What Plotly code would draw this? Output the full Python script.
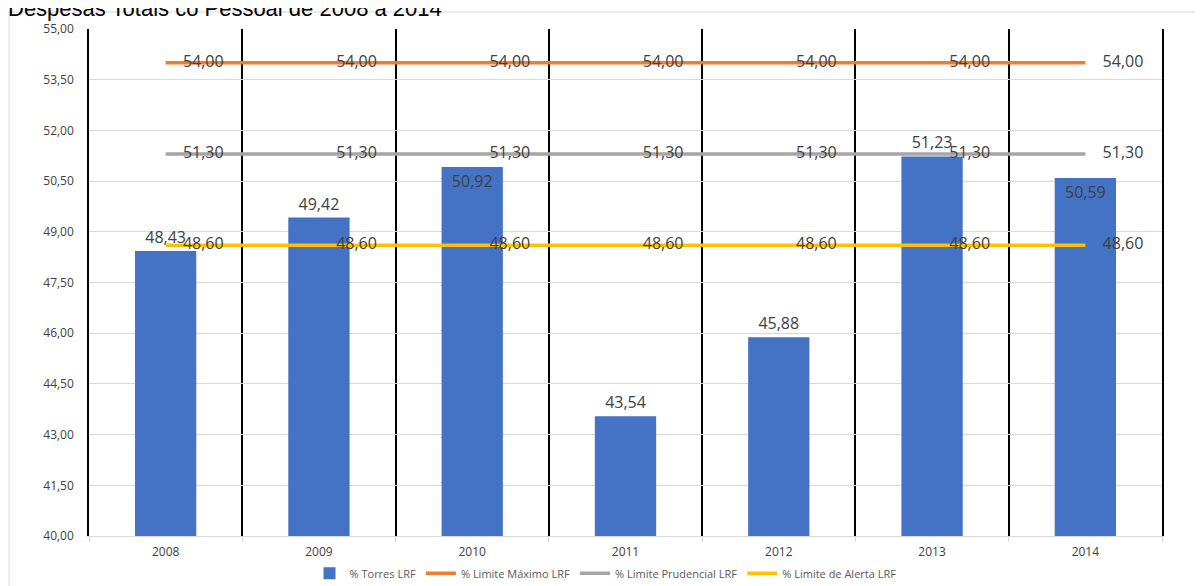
import plotly.graph_objects as go

years = ['2008', '2009', '2010', '2011', '2012', '2013', '2014']
torres = [48.43, 49.42, 50.92, 43.54, 45.88, 51.23, 50.59]
limite_maximo = [54.00] * 7
limite_prudencial = [51.30] * 7
limite_alerta = [48.60] * 7
bar_label_pos = ['outside', 'outside', 'inside', 'outside', 'outside', 'outside', 'inside']
y_ticks = [40.0, 41.5, 43.0, 44.5, 46.0, 47.5, 49.0, 50.5, 52.0, 53.5, 55.0]

label_color = '#404040'
label_font = dict(family='Open Sans', size=16, color=label_color)


def br(v):
    return f'{v:.2f}'.replace('.', ',')


fig = go.Figure()
fig.add_trace(go.Bar(
    x=years, y=torres, name='% Torres LRF',
    marker=dict(color='#4472C4', line=dict(width=0)),
    text=[br(v) for v in torres], textposition=bar_label_pos,
    insidetextanchor='end', textfont=label_font,
    insidetextfont=label_font, outsidetextfont=label_font,
    cliponaxis=False,
))

lines = [
    ('% Limite Máximo LRF', limite_maximo, '#ED7D31'),
    ('% Limite Prudencial LRF', limite_prudencial, '#A5A5A5'),
    ('% Limite de Alerta LRF', limite_alerta, '#FFC000'),
]
for name, vals, color in lines:
    fig.add_trace(go.Scatter(
        x=years, y=vals, name=name, mode='lines+markers+text',
        line=dict(color=color, width=3.5),
        marker=dict(size=26, color='rgba(0,0,0,0)'),
        text=[br(v) for v in vals], textposition='middle right',
        textfont=label_font, cliponaxis=False,
    ))

# outer chart frame (Excel chart area border)
fig.add_shape(type='line', xref='paper', yref='paper', x0=-0.0746, x1=1.1,
              y0=1.0335, y1=1.0335, line=dict(color='#D9D9D9', width=1))
fig.add_shape(type='line', xref='paper', yref='paper', x0=-0.0746, x1=-0.0746,
              y0=1.0335, y1=-0.2, line=dict(color='#D9D9D9', width=1))

# the page body has an 8px margin, so the figure is sized to fit inside the window
fig.update_layout(
    width=1195, height=578,
    margin=dict(l=81, r=41, t=21, b=50, autoexpand=False),
    paper_bgcolor='white', plot_bgcolor='white',
    font=dict(family='Open Sans', color='#595959', size=11),
    title=dict(text='Despesas Totais co Pessoal de 2008 a 2014',
               x=0, xanchor='left', xref='container', y=1.0, yanchor='middle',
               pad=dict(t=0, b=0, l=0, r=0),
               font=dict(family='Liberation Sans', size=22, color='#000000')),
    bargap=0.6,
    showlegend=True,
    legend=dict(orientation='h', xref='container', x=0.5, xanchor='center',
                yref='container', y=0.022, yanchor='middle', bgcolor='rgba(0,0,0,0)',
                font=dict(size=11, color='#595959'), tracegroupgap=0),
    xaxis=dict(type='category', tickson='boundaries', showgrid=True, gridcolor='#000000',
               gridwidth=1.5, ticks='outside', tickcolor='#D9D9D9', ticklen=5,
               ticklabelstandoff=5,
               showline=True, linecolor='#D9D9D9', tickfont=dict(size=12, color='#404040')),
    yaxis=dict(range=[40, 55], tickvals=y_ticks, ticktext=[br(v) for v in y_ticks],
               showgrid=True, gridcolor='#D9D9D9', zeroline=False, ticklabelstandoff=11,
               showline=True, linecolor='#000000', linewidth=1.5, mirror=True,
               tickfont=dict(size=12, color='#404040')),
)

fig.write_html('out.html')
